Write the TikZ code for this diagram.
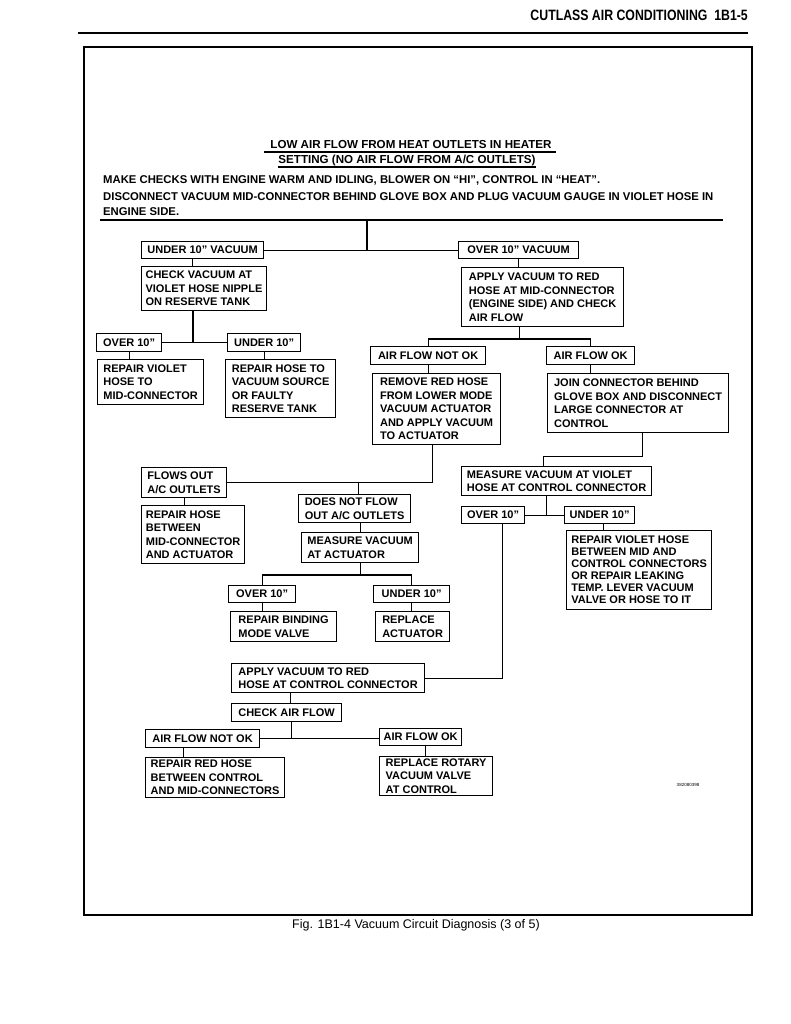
\documentclass[tikz,border=0pt]{standalone}
\usepackage{fontspec}
\setmainfont{Liberation Sans}
\newfontfamily\headfont[FakeStretch=0.82]{Liberation Sans}

\begin{document}
\begin{tikzpicture}[x=1pt,y=-1pt]
    \tikzset{
        box/.style 2 args={draw, line width=1.2pt, anchor=north west, align=left,
            minimum width=#1pt, minimum height=#2pt, inner xsep=4pt, inner ysep=2pt,
            font=\fontsize{11}{13.5}\selectfont\bfseries},
        wire/.style={line width=1.2pt},
        txt/.style={anchor=base west, inner sep=0pt, font=\fontsize{11.3}{13.5}\selectfont\bfseries}
    }
    \useasboundingbox (0,0) rectangle (791,1024);
    \node[anchor=base east, inner sep=0pt, font={\headfont\bfseries\fontsize{15}{18}\selectfont}] (header) at (748,21) {CUTLASS AIR CONDITIONING\ \ 1B1-5};
    \draw[line width=1.5pt] (78,33) -- (748,33);
    \draw[line width=1.2pt] (84,47) rectangle (752,915);
    \node[anchor=base, inner sep=0pt, font=\fontsize{12.5}{15}\selectfont] (caption) at (416,928) {Fig. 1B1-4 Vacuum Circuit Diagnosis (3 of 5)};

    \node[txt, anchor=base, font=\fontsize{11.6}{13.5}\selectfont\bfseries] (title1) at (411,149) {LOW AIR FLOW FROM HEAT OUTLETS IN HEATER};
    \node[txt, anchor=base, font=\fontsize{11.6}{13.5}\selectfont\bfseries] (title2) at (407,164) {SETTING (NO AIR FLOW FROM A/C OUTLETS)};
    \draw[wire] ([xshift=-6pt,yshift=-3pt]title1.base west) -- ([xshift=4pt,yshift=-3pt]title1.base east);
    \draw[wire] ([yshift=-3pt]title2.base west) -- ([yshift=-3pt]title2.base east);
    \node[txt] (checks) at (103,184) {MAKE CHECKS WITH ENGINE WARM AND IDLING, BLOWER ON ``HI'', CONTROL IN ``HEAT''.};
    \node[txt] (disc1) at (103,201) {DISCONNECT VACUUM MID-CONNECTOR BEHIND GLOVE BOX AND PLUG VACUUM GAUGE IN VIOLET HOSE IN};
    \node[txt] (disc2) at (103,215) {ENGINE SIDE.};
    \draw[line width=1.6pt] (100,220) -- (723,220);
    \coordinate (rulemid) at (367,220);

    \node[box={122}{17}] (undervac) at (141,241) {UNDER 10'' VACUUM};
    \node[box={120}{17}] (overvac) at (458,241) {OVER 10'' VACUUM};
    \node[box={124}{44}] (checktank) at (141,266) {CHECK VACUUM AT\\VIOLET HOSE NIPPLE\\ON RESERVE TANK};
    \node[box={162}{59}] (applymid) at (461,267) {APPLY VACUUM TO RED\\HOSE AT MID-CONNECTOR\\(ENGINE SIDE) AND CHECK\\AIR FLOW};
    \node[box={65}{18}] (overa) at (96,333) {OVER 10''};
    \node[box={73}{18}] (undera) at (227,333) {UNDER 10''};
    \node[box={106}{45}] (fixviolet) at (97,359) {REPAIR VIOLET\\HOSE TO\\MID-CONNECTOR};
    \node[box={110}{58}] (fixsource) at (225,359) {REPAIR HOSE TO\\VACUUM SOURCE\\OR FAULTY\\RESERVE TANK};
    \node[box={115}{18}] (notoka) at (370,346) {AIR FLOW NOT OK};
    \node[box={88}{18}] (oka) at (546,346) {AIR FLOW OK};
    \node[box={128}{71}] (removered) at (372,373) {REMOVE RED HOSE\\FROM LOWER MODE\\VACUUM ACTUATOR\\AND APPLY VACUUM\\TO ACTUATOR};
    \node[box={181}{59}] (joinconn) at (547,373) {JOIN CONNECTOR BEHIND\\GLOVE BOX AND DISCONNECT\\LARGE CONNECTOR AT\\CONTROL};
    \node[box={85}{30}] (flowsout) at (141,467) {FLOWS OUT\\A/C OUTLETS};
    \node[box={103}{58}] (fixactuator) at (141,505) {REPAIR HOSE\\BETWEEN\\MID-CONNECTOR\\AND ACTUATOR};
    \node[box={112}{28}] (noflow) at (298,494) {DOES NOT FLOW\\OUT A/C OUTLETS};
    \node[box={117}{30}] (measact) at (301,532) {MEASURE VACUUM\\AT ACTUATOR};
    \node[box={67}{17}] (overb) at (228,585) {OVER 10''};
    \node[box={76}{17}] (underb) at (373,585) {UNDER 10''};
    \node[box={106}{30}] (fixbinding) at (230,611) {REPAIR BINDING\\MODE VALVE};
    \node[box={74}{30}] (newactuator) at (375,611) {REPLACE\\ACTUATOR};
    \node[box={193}{29}] (applyctrl) at (231,663) {APPLY VACUUM TO RED\\HOSE AT CONTROL CONNECTOR};
    \node[box={190}{29}] (measviolet) at (461,466) {MEASURE VACUUM AT VIOLET\\HOSE AT CONTROL CONNECTOR};
    \node[box={63}{17}] (overc) at (461,506) {OVER 10''};
    \node[box={70}{17}] (underc) at (564,506) {UNDER 10''};
    \node[box={145}{79}, font=\fontsize{11}{12}\selectfont\bfseries] (fixleak) at (566,530) {REPAIR VIOLET HOSE\\BETWEEN MID AND\\CONTROL CONNECTORS\\OR REPAIR LEAKING\\TEMP. LEVER VACUUM\\VALVE OR HOSE TO IT};
    \node[box={110}{18}] (checkflow) at (231,703) {CHECK AIR FLOW};
    \node[box={114}{18}] (notokb) at (145,729) {AIR FLOW NOT OK};
    \node[box={82}{17}] (okb) at (379,728) {AIR FLOW OK};
    \node[box={139}{40}] (fixred) at (145,757) {REPAIR RED HOSE\\BETWEEN CONTROL\\AND MID-CONNECTORS};
    \node[box={113}{39}] (newrotary) at (379,756) {REPLACE ROTARY\\VACUUM VALVE\\AT CONTROL};
    \node[inner sep=0pt, font=\fontsize{4.5}{5}\selectfont] (figno) at (688,785) {382080398};

    \draw[wire] (rulemid) -- (rulemid |- undervac.east);
    \draw[wire] (undervac.east) -- (overvac.west);
    \draw[wire] ([xshift=-10pt]undervac.south) -- ([xshift=-10pt]undervac.south |- checktank.north);
    \draw[wire] (overvac.south) -- (overvac.south |- applymid.north);
    \draw[wire] ([xshift=-11pt]checktank.south) -- ([xshift=-11pt]checktank.south |- overa.east);
    \draw[wire] (overa.east) -- (undera.west);
    \draw[wire] (overa.south) -- (overa.south |- fixviolet.north);
    \draw[wire] (undera.south) -- (undera.south |- fixsource.north);
    \draw[wire] ([xshift=-23pt]applymid.south) -- ++(0,13);
    \draw[wire] (notoka.north) -- ++(0,-7) -| (oka.north);
    \draw[wire] (notoka.south) -- (notoka.south |- removered.north);
    \draw[wire] (oka.south) -- (oka.south |- joinconn.north);
    \draw[wire] ([xshift=-4pt]removered.south) |- (flowsout.east);
    \draw[wire] ([xshift=4pt]noflow.north) -- ([xshift=4pt]noflow.north |- flowsout.east);
    \draw[wire] (flowsout.south) -- (flowsout.south |- fixactuator.north);
    \draw[wire] (measact.north |- noflow.south) -- (measact.north);
    \draw[wire] (measact.south) -- ++(0,13);
    \draw[wire] (overb.north) -- ++(0,-10) -| (underb.north);
    \draw[wire] (overb.south) -- (overb.south |- fixbinding.north);
    \draw[wire] (underb.south) -- (underb.south |- newactuator.north);
    \draw[wire] ([xshift=4pt]joinconn.south) -- ++(0,23) -| ([xshift=-13pt]measviolet.north);
    \draw[wire] ([xshift=-10pt]measviolet.south) -- ([xshift=-10pt]measviolet.south |- overc.east);
    \draw[wire] (overc.east) -- (underc.west);
    \draw[wire] ([xshift=4pt]underc.south) -- ([xshift=4pt]underc.south |- fixleak.north);
    \draw[wire] ([xshift=9pt]overc.south) |- (applyctrl.east);
    \draw[wire] ([xshift=4pt]checkflow.north) -- ([xshift=4pt]checkflow.north |- applyctrl.south);
    \draw[wire] ([xshift=5pt]checkflow.south) |- (notokb.east);
    \draw[wire] (notokb.east) -- (notokb.east -| okb.west);
    \draw[wire] ([xshift=-19pt]notokb.south) -- ([xshift=-19pt]notokb.south |- fixred.north);
    \draw[wire] ([xshift=5pt]okb.south) -- ([xshift=5pt]okb.south |- newrotary.north);
\end{tikzpicture}
\end{document}
